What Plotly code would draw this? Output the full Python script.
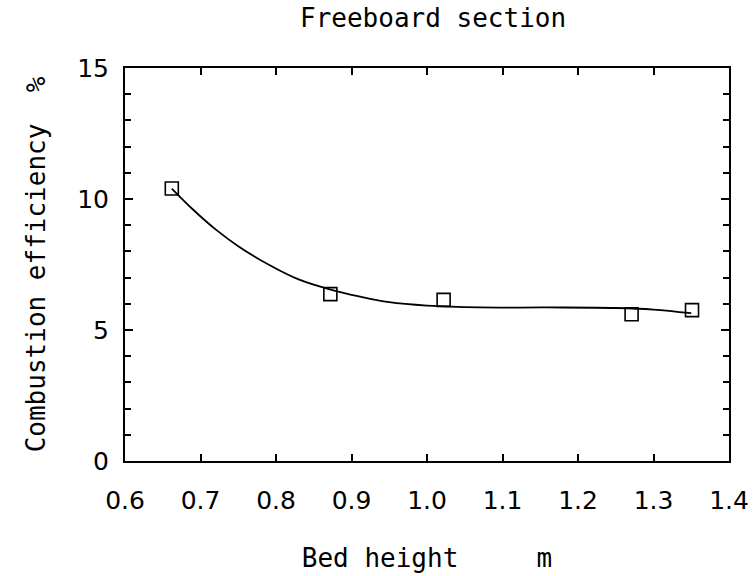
import plotly.graph_objects as go

# Measured points
bed_height = [0.662, 0.872, 1.022, 1.271, 1.351]
efficiency = [10.4, 6.37, 6.15, 5.60, 5.76]

# Fitted curve
fit_x = [0.662, 0.69, 0.72, 0.75, 0.79, 0.83, 0.87, 0.91, 0.95, 1.00, 1.07, 1.16, 1.25, 1.30, 1.35]
fit_y = [10.40, 9.60, 8.84, 8.20, 7.50, 6.93, 6.56, 6.28, 6.06, 5.93, 5.86, 5.86, 5.84, 5.78, 5.64]

x_ticks = [0.6, 0.7, 0.8, 0.9, 1.0, 1.1, 1.2, 1.3, 1.4]
x_ticklabels = ["0.6", "0.7", "0.8", "0.9", "1.0", "1.1", "1.2", "1.3", "1.4"]
y_ticks = [0, 5, 10, 15]

title_font = dict(family="DejaVu Sans Mono", size=26, color="black")
tick_font = dict(family="DejaVu Sans", size=25, color="black")

fig = go.Figure()
fig.add_trace(go.Scatter(
    x=fit_x, y=fit_y, mode="lines",
    line=dict(color="black", width=1.8, shape="spline", smoothing=1.0),
    showlegend=False, hoverinfo="skip",
))
fig.add_trace(go.Scatter(
    x=bed_height, y=efficiency, mode="markers",
    marker=dict(symbol="square-open", size=13, color="black", line=dict(width=1.6, color="black")),
    showlegend=False,
))

fig.update_layout(
    width=753, height=576,
    margin=dict(l=125, r=24, t=68, b=115),
    paper_bgcolor="white", plot_bgcolor="white",
    title=dict(text="Freeboard section", font=title_font,
               x=0.51, xref="paper", xanchor="center",
               y=1 - 18 / 576, yref="container", yanchor="middle"),
)
fig.update_xaxes(
    range=[0.6, 1.4], tickvals=x_ticks, ticktext=x_ticklabels,
    ticks="inside", ticklen=7, tickwidth=1.5, tickcolor="black",
    showline=True, linewidth=2, linecolor="black", mirror="ticks",
    showgrid=False, zeroline=False, tickfont=tick_font,
    ticklabelstandoff=16, automargin=False,
    title=dict(text="Bed height\u00a0\u00a0\u00a0\u00a0\u00a0m", font=title_font, standoff=35),
)
fig.update_yaxes(
    range=[0, 15], tickvals=y_ticks,
    ticks="inside", ticklen=8, tickwidth=1.5, tickcolor="black",
    minor=dict(dtick=1, ticks="inside", ticklen=6, tickwidth=1.5, tickcolor="black", showgrid=False),
    showline=True, linewidth=2, linecolor="black", mirror="ticks",
    showgrid=False, zeroline=False, tickfont=tick_font,
    ticklabelstandoff=9, automargin=False,
    title=dict(text="Combustion efficiency\u00a0\u00a0%", font=title_font, standoff=24),
)

fig.write_html("out.html")
